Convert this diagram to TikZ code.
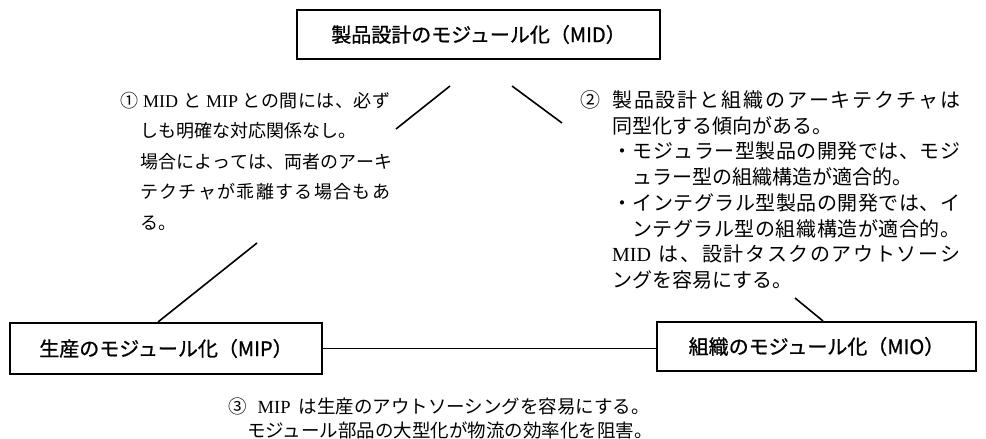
\documentclass[tikz,border=0pt]{standalone}
\usepackage{fontspec}
\setmainfont{Noto Sans CJK JP}
\newfontfamily\boxfont{Noto Sans CJK JP}[FakeBold=1]
\newfontfamily\lat{Liberation Serif}
\makeatletter
\newcommand\jsp[2]{\hbox to #1{\@tfor\jt:=#2\do{\jt\hfil}\unskip}}
\makeatother
\begin{document}
\begin{tikzpicture}[x=1pt,y=-1pt,
  box/.style={draw, line width=2pt, inner sep=0pt, font=\boxfont\fontsize{20}{20}\selectfont},
  txtl/.style={anchor=base west, inner sep=0pt, font=\fontsize{18}{18}\selectfont},
  txtr/.style={anchor=base west, inner sep=0pt, font=\fontsize{20}{20}\selectfont},
  txtb/.style={anchor=base west, inner sep=0pt, font=\fontsize{18.5}{18.5}\selectfont},
  ln/.style={line width=1.6pt}]
\fill[white] (0,0) rectangle (986,439);
\useasboundingbox (0,0) rectangle (986,439);
% boxes
\node[box, minimum width=363pt, minimum height=49pt] (mid) at (478.5,34.5) {製品設計のモジュール化（MID）};
\node[box, minimum width=312pt, minimum height=51pt] (mip) at (166,348.5) {生産のモジュール化（MIP）};
\node[box, minimum width=319pt, minimum height=49pt] (mio) at (816.5,346.5) {組織のモジュール化（MIO）};
% connectors
\coordinate (a1) at (450,86);
\coordinate (a2) at (396,129);
\coordinate (a3) at (257,243);
\coordinate (a4) at (158,323);
\coordinate (b1) at (512,86);
\coordinate (b2) at (562,123);
\coordinate (b3) at (795,298);
\coordinate (b4) at (823,322);
\draw[ln] (a1) -- (a2);
\draw[ln] (a3) -- (a4 |- mip.north);
\draw[ln] (b1) -- (b2);
\draw[ln] (b3) -- (b4 |- mio.north);
\draw[ln] (mip.east) -- (mip.east -| mio.west);
% left text
\node[txtl] (t1) at (120,107) {\jsp{270pt}{①{\ }{{\lat MID}}{\ }と{\ }{{\lat MIP}}{\ }との間には、必ず}};
\node[txtl] (t2) at (140,137.5) {しも明確な対応関係なし。};
\node[txtl] (t3) at (140,168) {\jsp{250pt}{場合によっては、両者のアーキ}};
\node[txtl] (t4) at (140,198.5) {\jsp{250pt}{テクチャが乖離する場合もあ}};
\node[txtl] (t5) at (140,229) {る。};
% right text
\node[txtr] (r0) at (580,107.5) {②};
\node[txtr] (r1) at (612,107.5) {\jsp{348pt}{製品設計と組織のアーキテクチャは}};
\node[txtr] (r2) at (612,133.2) {同型化する傾向がある。};
\node[txtr] (r3) at (612,158.9) {\jsp{348pt}{・モジュラー型製品の開発では、モジ}};
\node[txtr] (r4) at (632,184.6) {ュラー型の組織構造が適合的。};
\node[txtr] (r5) at (612,210.3) {\jsp{348pt}{・インテグラル型製品の開発では、イ}};
\node[txtr] (r6) at (632,236) {\jsp{328pt}{ンテグラル型の組織構造が適合的。}};
\node[txtr] (r7) at (612,261.7) {\jsp{348pt}{{{\lat MID}}{\ }は、設計タスクのアウトソーシ}};
\node[txtr] (r8) at (612,287.4) {ングを容易にする。};
% bottom text
\node[txtb] (c1) at (228,413) {③\hspace{11pt}{\lat MIP}\hspace{8pt}は生産のアウトソーシングを容易にする。};
\node[txtb] (c2) at (247,437.5) {モジュール部品の大型化が物流の効率化を阻害。};
\end{tikzpicture}
\end{document}
